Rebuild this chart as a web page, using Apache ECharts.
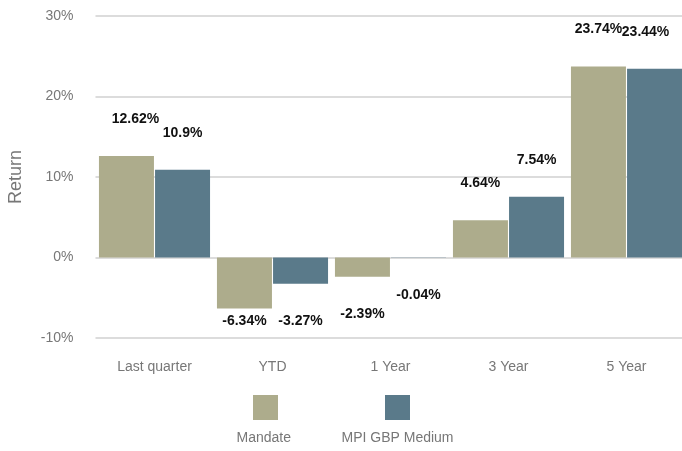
<!DOCTYPE html>
<html>
<head>
<meta charset="utf-8">
<script src="https://cdn.jsdelivr.net/npm/echarts@6/dist/echarts.min.js"></script>
<style>
html,body{margin:0;padding:0;background:#fff;}
#main{width:682px;height:451px;}
</style>
</head>
<body>
<div id="main"></div>
<script>
const categories = ['Last quarter', 'YTD', '1 Year', '3 Year', '5 Year'];
const seriesNames = ['Mandate', 'MPI GBP Medium'];
const mandate = [12.62, -6.34, -2.39, 4.64, 23.74];
const mpi = [10.9, -3.27, -0.04, 7.54, 23.44];
const yTicks = { min: -10, max: 30, interval: 10 };

const colors = ['#adac8c', '#5a7a8a'];
const FONT = '"Liberation Sans", Arial, sans-serif';

// label tweaks (layout only)
const labelTweaks = {
  '0-0': { offset: [9, 0] },
  '0-1': { distance: 6 },
  '1-4': { offset: [-9, 0] }
};

function buildData(vals, si) {
  return vals.map((v, i) => {
    const t = labelTweaks[si + '-' + i] || {};
    return {
      value: v,
      label: {
        position: v >= 0 ? 'top' : 'bottom',
        distance: t.distance !== undefined ? t.distance : 30,
        offset: t.offset || [0, 0]
      }
    };
  });
}

const chart = echarts.init(document.getElementById('main'), null, { renderer: 'canvas' });
const labelStyle = {
  show: true,
  formatter: p => p.value + '%',
  fontFamily: FONT,
  fontWeight: 'bold',
  fontSize: 14,
  color: '#111'
};
const legendCommon = {
  top: 395,
  padding: 0,
  icon: 'rect', itemWidth: 25, itemHeight: 25,
  formatter: () => '',
  textStyle: { fontSize: 1 }
};
chart.setOption({
  animation: false,
  backgroundColor: '#fff',
  textStyle: { fontFamily: FONT },
  grid: { left: 95.5, top: 16, width: 590, height: 322, containLabel: false, outerBoundsMode: 'none' },
  legend: [
    Object.assign({ data: [seriesNames[0]], left: 253 }, legendCommon),
    Object.assign({ data: [seriesNames[1]], left: 385 }, legendCommon)
  ],
  graphic: [
    { type: 'text', left: 265.5 - 29, top: 431,
      style: { text: seriesNames[0], fill: '#777', font: '14px ' + FONT } },
    { type: 'text', left: 397.5 - 56, top: 431,
      style: { text: seriesNames[1], fill: '#777', font: '14px ' + FONT } }
  ],
  xAxis: {
    type: 'category',
    data: categories,
    position: 'bottom',
    axisLine: { show: false },
    axisTick: { show: false },
    axisLabel: { color: '#777', fontSize: 14, margin: 22, fontFamily: FONT }
  },
  yAxis: {
    type: 'value',
    min: yTicks.min, max: yTicks.max, interval: yTicks.interval,
    name: 'Return',
    nameLocation: 'middle',
    nameGap: 70,
    nameTextStyle: { color: '#777', fontSize: 18, fontFamily: FONT },
    axisLine: { show: false },
    axisTick: { show: false },
    axisLabel: { color: '#777', fontSize: 14, margin: 22, formatter: '{value}%', fontFamily: FONT },
    splitLine: { lineStyle: { color: '#dcdcdc', width: 2 } }
  },
  series: [
    {
      name: seriesNames[0], type: 'bar', data: buildData(mandate, 0),
      itemStyle: { color: colors[0] },
      barWidth: 55, barGap: '2%',
      label: labelStyle
    },
    {
      name: seriesNames[1], type: 'bar', data: buildData(mpi, 1),
      itemStyle: { color: colors[1] },
      barWidth: 55, barGap: '2%',
      label: labelStyle
    }
  ]
});
</script>
</body>
</html>
